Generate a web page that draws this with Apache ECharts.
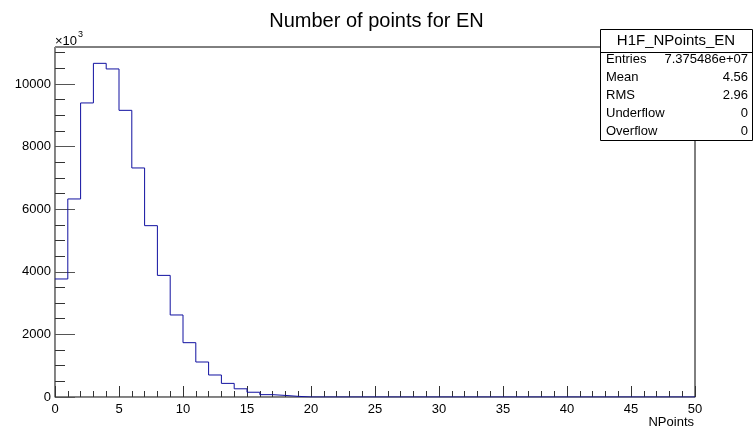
<!DOCTYPE html>
<html>
<head>
<meta charset="utf-8">
<script src="https://cdn.jsdelivr.net/npm/echarts@6/dist/echarts.min.js"></script>
<style>
html,body{margin:0;padding:0;background:#fff;}
#chart{width:753px;height:433px;}
</style>
</head>
<body>
<div id="chart"></div>
<script>
// ---- data (counts in units of 10^3) ----
var binWidth = 1;
var binCounts = [
  3770, 6326, 9393, 10658, 10479, 9157, 7316, 5473, 3885, 2620,
  1735, 1118, 703, 435, 262, 152, 75, 50, 21, 0,
  0, 0, 0, 0, 0, 0, 0, 0, 0, 0,
  0, 0, 0, 0, 0, 0, 0, 0, 0, 0,
  0, 0, 0, 0, 0, 0, 0, 0, 0, 0
];
var xTickLabels = [0, 5, 10, 15, 20, 25, 30, 35, 40, 45, 50];
var yTickLabels = [0, 2000, 4000, 6000, 8000, 10000];
var yMinorTicks = [500, 1000, 1500, 2500, 3000, 3500, 4500, 5000, 5500, 6500, 7000, 7500, 8500, 9000, 9500, 10500, 11000];
var statsTitle = "H1F_NPoints_EN";
var statsNames = ["Entries", "Mean", "RMS", "Underflow", "Overflow"];
var statsValues = ["7.375486e+07", "4.56", "2.96", "0", "0"];
var chartTitle = "Number of points for EN";
var xTitle = "NPoints";

// ---- build step outline from bins ----
var stepData = [];
for (var i = 0; i < binCounts.length; i++) {
  stepData.push([i * binWidth, binCounts[i]]);
  stepData.push([(i + 1) * binWidth, binCounts[i]]);
}

var FONT = "'Liberation Sans', Arial, Helvetica, sans-serif";
var chart = echarts.init(document.getElementById('chart'), null, {renderer: 'canvas'});

var statsGraphics = [];
var bx = 600, by = 29, bw = 152, bh = 111;
statsGraphics.push({type: 'rect', z: 100, shape: {x: bx + 0.5, y: by + 0.5, width: bw, height: bh},
  style: {fill: '#fff', stroke: '#000', lineWidth: 1}});
statsGraphics.push({type: 'line', z: 101, shape: {x1: bx, y1: by + 23.5, x2: bx + bw, y2: by + 23.5},
  style: {stroke: '#000', lineWidth: 1}});
statsGraphics.push({type: 'text', z: 101, x: bx + bw / 2, y: by + 12,
  style: {text: statsTitle, font: '15px ' + FONT, fill: '#000', align: 'center', verticalAlign: 'middle'}});
var rowY = [59, 77, 95, 113, 131];
for (var r = 0; r < statsNames.length; r++) {
  statsGraphics.push({type: 'text', z: 101, x: bx + 6, y: rowY[r],
    style: {text: statsNames[r], font: '13px ' + FONT, fill: '#000', align: 'left', verticalAlign: 'middle'}});
  statsGraphics.push({type: 'text', z: 101, x: bx + bw - 4, y: rowY[r],
    style: {text: statsValues[r], font: '13px ' + FONT, fill: '#000', align: 'right', verticalAlign: 'middle'}});
}

var option = {
  animation: false,
  backgroundColor: '#fff',
  title: {
    text: chartTitle, left: 'center', top: 6,
    textStyle: {fontSize: 20, fontWeight: 'normal', color: '#000', fontFamily: FONT}
  },
  grid: {left: 55, right: 58, top: 47, bottom: 36, show: true, borderColor: '#000', borderWidth: 1, backgroundColor: 'transparent', containLabel: false},
  xAxis: [{
    type: 'value', min: 0, max: 50, interval: 5,
    axisLine: {show: true, lineStyle: {color: '#888', width: 1}},
    axisTick: {show: true, inside: true, length: 11, lineStyle: {color: '#333'}},
    minorTick: {show: true, splitNumber: 5, length: 6, lineStyle: {color: '#333'}},
    axisLabel: {color: '#000', fontSize: 13, fontFamily: FONT, margin: 6, formatter: function (v) { return String(v); }},
    splitLine: {show: false}
  }],
  yAxis: [{
    type: 'value', min: 0, max: 11180, position: 'left',
    axisLine: {show: true, onZero: false, lineStyle: {color: '#888', width: 1}},
    axisTick: {show: true, inside: true, length: 20, customValues: yTickLabels, lineStyle: {color: '#555'}},
    axisLabel: {color: '#000', fontSize: 13, fontFamily: FONT, margin: 4, customValues: yTickLabels, formatter: function (v) { return String(v); }},
    splitLine: {show: false}
  }, {
    type: 'value', min: 0, max: 11180, position: 'left', offset: 0,
    axisLine: {show: false},
    axisTick: {show: true, inside: true, length: 10, customValues: yMinorTicks, lineStyle: {color: '#333'}},
    axisLabel: {show: false},
    splitLine: {show: false}
  }],
  graphic: [
    {type: 'text', z: 50, x: 55, y: 41,
      style: {text: '\u00d710', font: '13px ' + FONT, fill: '#000', align: 'left', verticalAlign: 'middle'}},
    {type: 'text', z: 50, x: 78, y: 35,
      style: {text: '3', font: '9px ' + FONT, fill: '#000', align: 'left', verticalAlign: 'middle'}},
    {type: 'text', z: 50, x: 694, y: 422,
      style: {text: xTitle, font: '13px ' + FONT, fill: '#000', align: 'right', verticalAlign: 'middle'}}
  ].concat(statsGraphics),
  series: [{
    type: 'line', xAxisIndex: 0, yAxisIndex: 0,
    data: stepData, symbol: 'none', showSymbol: false,
    lineStyle: {color: '#1010a0', width: 1},
    itemStyle: {color: '#1010a0'},
    clip: true, z: 5
  }]
};
chart.setOption(option);
</script>
</body>
</html>
